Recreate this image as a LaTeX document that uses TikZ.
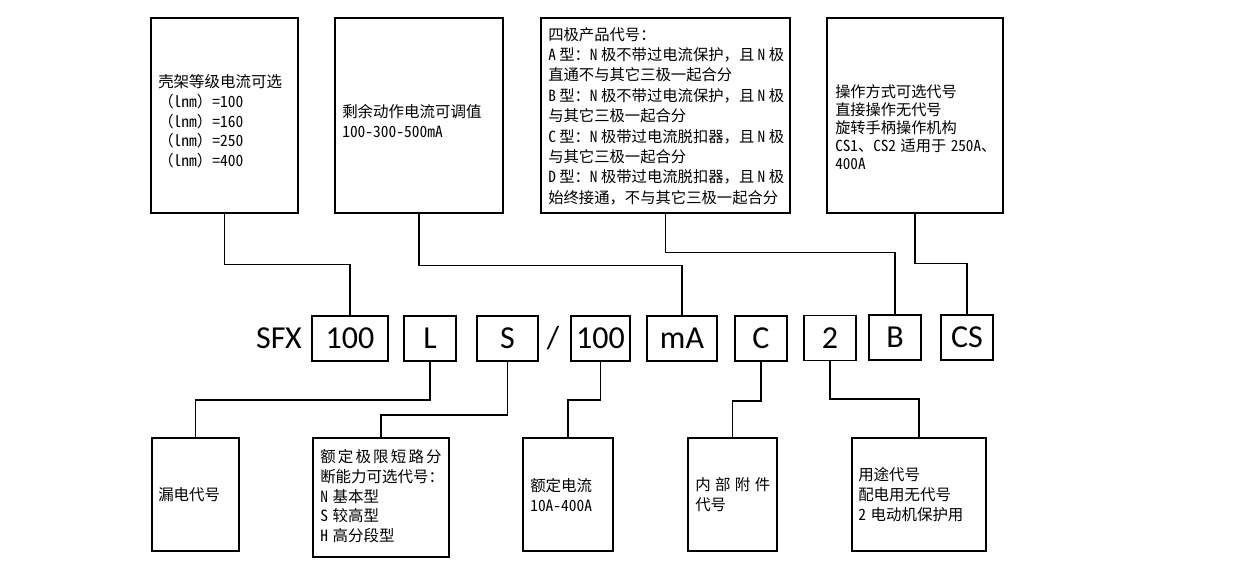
\documentclass[tikz,border=0pt]{standalone}
\usepackage{fontspec}
\setmainfont{Carlito}
\newfontfamily\cjk[RawFeature=+hwid]{Noto Sans CJK SC}
\newfontfamily\cjkn{Noto Sans CJK SC}
\usetikzlibrary{fit}
\newcommand\sepp{\hspace{0.3em}}
\newcommand\sepq{\hspace{0.22em}}
\newcommand\fw[1]{{\cjkn #1}}
\begin{document}
\begin{tikzpicture}[x=0.75pt,y=-0.75pt,
  box/.style={draw, line width=0.8pt, inner sep=0pt},
  code/.style={draw, line width=0.9pt, inner sep=0pt, minimum height=45*0.75pt, font=\fontsize{24}{28}\selectfont},
  plain/.style={inner sep=0pt, font=\fontsize{24}{28}\selectfont},
  wire/.style={line width=1.4pt, line join=miter},
  txt/.style={anchor=north west, inner sep=0pt, align=left, font=\cjk\fontsize{11.5}{15.3}\selectfont},
  txtb/.style={txt, font=\cjk\fontsize{11.4}{13.5}\selectfont},
  txtc/.style={txt, font=\cjk\fontsize{11.6}{14.9}\selectfont}]
\useasboundingbox (0,0) rectangle (1240,575);
% top boxes
\node[box, fit={(151,18) (298,213)}] (t1) {};
\node[box, fit={(335,18) (503,213)}] (t2) {};
\node[box, fit={(541,18) (790,213)}] (t3) {};
\node[box, fit={(827,18) (1003,213)}] (t4) {};
\node[txtc] (t1x) at (158,74) {壳架等级电流可选\\\fw{（}lnm\fw{）}=100\\\fw{（}lnm\fw{）}=160\\\fw{（}lnm\fw{）}=250\\\fw{（}lnm\fw{）}=400};
\node[txtc] (t2x) at (342,104) {剩余动作电流可调值\\100-300-500mA};
\node[txt] (t3x) at (548,27) {四极产品代号\fw{：}\\A\sepq 型\fw{：}N\sepq 极不带过电流保护\fw{，}且\sepq N\sepq 极\\直通不与其它三极一起合分\\B\sepq 型\fw{：}N\sepq 极不带过电流保护\fw{，}且\sepq N\sepq 极\\与其它三极一起合分\\C\sepq 型\fw{：}N\sepq 极带过电流脱扣器\fw{，}且\sepq N\sepq 极\\与其它三极一起合分\\D\sepq 型\fw{：}N\sepq 极带过电流脱扣器\fw{，}且\sepq N\sepq 极\\始终接通\fw{，}不与其它三极一起合分};
\node[txtb] (t4x) at (835,84) {操作方式可选代号\\直接操作无代号\\旋转手柄操作机构\\CS1\fw{、}CS2\sepp 适用于\sepp 250A\fw{、}\\400A};
% code row
\node[plain] (sfx) at (279,338) {SFX};
\node[code, minimum width=76*0.75pt] (c100) at (350,338.5) {100};
\node[code, minimum width=52*0.75pt] (cL) at (430,338.5) {L};
\node[code, minimum width=61*0.75pt] (cS) at (507.5,338.5) {S};
\node[plain] (slash) at (553,338) {/};
\node[code, minimum width=59*0.75pt] (c100b) at (600.5,338.5) {100};
\node[code, minimum width=70*0.75pt] (cmA) at (682,338.5) {mA};
\node[code, minimum width=52*0.75pt] (cC) at (761,338.5) {C};
\node[code, minimum width=52*0.75pt] (c2) at (830,338) {2};
\node[code, minimum width=52*0.75pt] (cB) at (895,337.5) {B};
\node[code, minimum width=52*0.75pt] (cCS) at (967,337.5) {CS};
% bottom boxes
\node[box, fit={(152,438) (239,551)}] (b1) {};
\node[box, fit={(313,438) (449,557)}] (b2) {};
\node[box, fit={(523,438) (613,551)}] (b3) {};
\node[box, fit={(688,438) (777,551)}] (b4) {};
\node[box, fit={(852,438) (986,551)}] (b5) {};
\node[txtc] (b1x) at (158,487) {漏电代号};
\node[txtc] (b2x) at (320,449) {\makebox[7.85em][s]{额\hfill{}定\hfill{}极\hfill{}限\hfill{}短\hfill{}路\hfill{}分}\\断能力可选代号\fw{：}\\N\sepp 基本型\\S\sepp 较高型\\H\sepp 高分段型};
\node[txtc] (b3x) at (530,478) {额定电流\\10A-400A};
\node[txtc] (b4x) at (695,477) {\makebox[4.85em][s]{内\hfill{}部\hfill{}附\hfill{}件}\\代号};
\node[txtc] (b5x) at (858,467) {用途代号\\配电用无代号\\2\sepp 电动机保护用};
% connectors top
\draw[wire] (t1.south) -- ++(0,51) -| (c100.north);
\draw[wire] (t2.south) -- ++(0,52) -| (cmA.north);
\draw[wire] (t3.south) -- ++(0,39) -| (cB.north);
\draw[wire] (t4.south) -- ++(0,50) -| (cCS.north);
% connectors bottom
\draw[wire] (cL.south) -- ++(0,38) -| (b1.north);
\draw[wire] (cS.south) -- ++(0,53) -| (b2.north);
\draw[wire] (c100b.south) -- ++(0,38) -| (b3.north);
\draw[wire] (cC.south) -- ++(0,39) -| (b4.north);
\draw[wire] (c2.south) -- ++(0,38) -| (b5.north);
\end{tikzpicture}
\end{document}
